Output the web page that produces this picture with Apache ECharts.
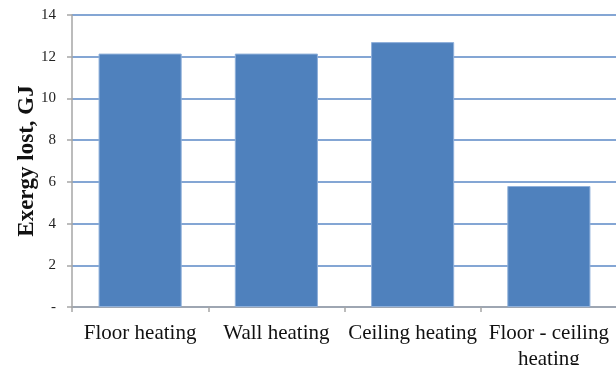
<!DOCTYPE html>
<html>
<head>
<meta charset="utf-8">
<script src="https://cdn.jsdelivr.net/npm/echarts@6/dist/echarts.min.js"></script>
<style>
  html, body { margin: 0; padding: 0; background: #fff; }
  #chart { width: 616px; height: 365px; }
</style>
</head>
<body>
<div id="chart"></div>
<script>
// Exergy lost per heating system (GJ)
var categories = ['Floor heating', 'Wall heating', 'Ceiling heating', 'Floor - ceiling\nheating'];
var exergyLost = [12.15, 12.15, 12.7, 5.8];
var yTicks = { min: 0, max: 14, step: 2 };

var chart = echarts.init(document.getElementById('chart'), null, { renderer: 'canvas' });
var serif = '"Liberation Serif", "DejaVu Serif", serif';

chart.setOption({
  animation: false,
  backgroundColor: '#ffffff',
  grid: { left: 72, right: -1, top: 15, bottom: 58, containLabel: false, outerBoundsMode: 'none' },
  xAxis: {
    type: 'category',
    data: categories,
    axisLine: { lineStyle: { color: '#a6a6a6', width: 1.5 } },
    axisTick: { show: true, length: 5, lineStyle: { color: '#a6a6a6', width: 1.5 } },
    axisLabel: {
      color: '#111',
      fontFamily: serif,
      fontSize: 21,
      lineHeight: 26,
      margin: 13,
      interval: 0
    }
  },
  yAxis: {
    type: 'value',
    min: yTicks.min,
    max: yTicks.max,
    interval: yTicks.step,
    name: 'Exergy lost, GJ',
    nameLocation: 'middle',
    nameRotate: 90,
    nameGap: 33,
    nameMoveOverlap: false,
    nameTextStyle: {
      color: '#111',
      fontFamily: serif,
      fontSize: 23,
      fontWeight: 'bold'
    },
    axisLine: { show: true, lineStyle: { color: '#a6a6a6', width: 1.5 } },
    axisTick: { show: true, length: 5, lineStyle: { color: '#a6a6a6', width: 1.5 } },
    axisLabel: {
      color: '#222',
      fontFamily: serif,
      fontSize: 15,
      margin: 16,
      formatter: function (v) { return v === 0 ? '-' : String(v); }
    },
    splitLine: { show: true, lineStyle: { color: '#5b88c6', width: 1.5 } }
  },
  series: [{
    type: 'bar',
    data: exergyLost,
    barCategoryGap: '39%',
    itemStyle: {
      color: '#4f81bd',
      borderColor: '#8fb0da',
      borderWidth: 1
    }
  }]
});
</script>
</body>
</html>
